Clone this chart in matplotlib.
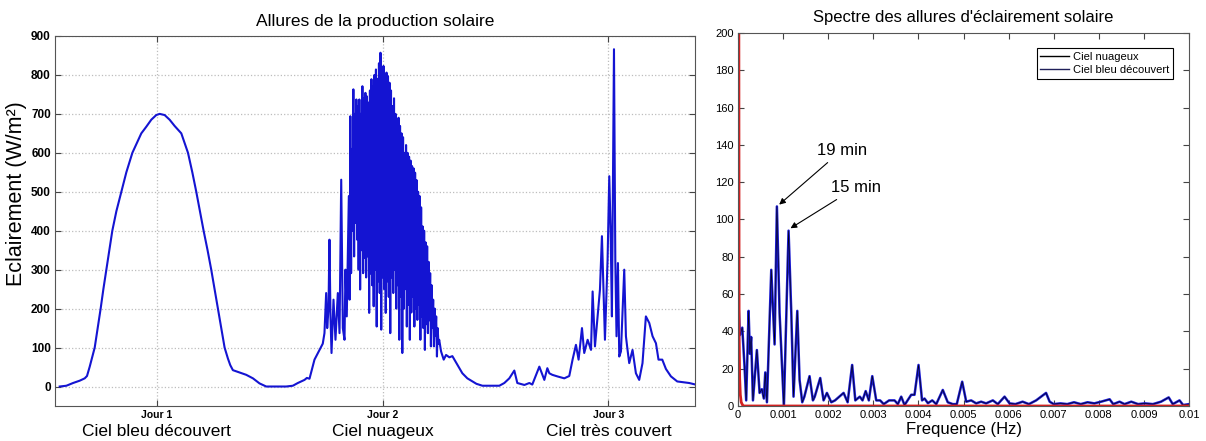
import numpy as np
import matplotlib.pyplot as plt

plt.rcParams['font.family'] = ['Liberation Sans', 'DejaVu Sans']

# Left panel: solar irradiance (W/m2) over three days, time in hours
jour1_h = [1.70, 2.41, 3.12, 3.83, 4.36, 4.60, 4.89, 5.42, 5.74, 6.05, 6.34, 6.66, 6.98,
           7.29, 7.72, 8.25, 8.78, 9.42, 10.37, 10.90, 11.43, 11.96, 12.32, 12.85,
           13.38, 13.91, 14.62, 15.33, 15.79, 16.21, 16.60, 16.99, 17.41, 17.80, 18.16,
           18.51, 18.86, 19.22, 19.57, 19.82, 20.10, 20.81, 21.52, 22.23, 22.93, 23.64,
           24.70, 25.76, 26.47, 27.00, 27.36, 27.71, 27.96]
jour1_v = [0, 2, 9, 15, 21, 27, 51, 100, 150, 200, 250, 300, 350,
           400, 450, 500, 550, 600, 650, 667, 685, 697, 700, 697,
           685, 669, 650, 600, 550, 500, 450, 400, 350, 300, 250,
           200, 150, 100, 72, 55, 42, 36, 30, 21, 8, 0,
           0, 0, 2, 9, 13, 17, 22]

jour2_h = [28.24, 28.77, 29.30, 29.65, 29.83, 30.01, 30.12, 30.26, 30.36, 30.47, 30.58,
           30.79, 31.00, 31.25, 31.43, 31.61, 31.78, 31.96, 32.06, 32.20, 32.42,
           32.50, 32.58, 32.66, 32.74, 32.82, 32.90, 32.98, 33.06, 33.14, 33.22, 33.30,
           33.38, 33.46, 33.54, 33.62, 33.70, 33.78, 33.86, 33.94, 34.02, 34.10, 34.18,
           34.26, 34.34, 34.42, 34.50, 34.58, 34.66, 34.74, 34.82, 34.90, 34.98, 35.06,
           35.14, 35.22, 35.30, 35.38, 35.46, 35.54, 35.62, 35.70, 35.78, 35.86, 35.94,
           36.02, 36.10, 36.18, 36.26, 36.34, 36.42, 36.50, 36.58, 36.66, 36.74, 36.82,
           36.90, 36.98, 37.06, 37.14, 37.22, 37.30, 37.38, 37.46, 37.54, 37.62, 37.70,
           37.78, 37.86, 37.94, 38.02, 38.10, 38.18, 38.26, 38.34, 38.42, 38.50, 38.58,
           38.66, 38.74, 38.82, 38.90, 38.98, 39.06, 39.14, 39.22, 39.30, 39.38, 39.46,
           39.54, 39.62, 39.70, 39.78, 39.86, 39.94, 40.02, 40.10, 40.18, 40.26, 40.34,
           40.42, 40.50, 40.58, 40.66, 40.74, 40.82, 40.90, 40.98, 41.06, 41.14, 41.22,
           41.30, 41.38, 41.46, 41.54, 41.62, 41.70, 41.78, 41.86, 41.94, 42.02,
           42.22, 42.50, 42.75, 43.10, 43.42, 43.95, 44.48, 45.01, 45.97, 46.61]
jour2_v = [20, 69, 94, 110, 137, 240, 150, 200, 377, 180, 86,
           223, 120, 240, 137, 531, 150, 120, 300, 180, 489,
           223, 694, 291, 610, 400, 763, 334, 700, 420, 737, 377,
           720, 300, 737, 249, 700, 350, 771, 291, 740, 330, 754,
           280, 745, 334, 729, 189, 760, 290, 789, 260, 770, 206,
           800, 300, 814, 154, 790, 270, 830, 240, 857, 146, 810,
           280, 823, 250, 800, 189, 806, 270, 797, 230, 780, 137,
           760, 280, 720, 240, 740, 300, 700, 200, 677, 260, 690,
           120, 669, 230, 650, 86, 640, 200, 600, 250, 620, 154,
           600, 210, 590, 120, 580, 190, 566, 230, 560, 154, 549,
           200, 530, 171, 500, 210, 489, 120, 460, 180, 411, 150,
           400, 94, 370, 160, 360, 137, 320, 170, 291, 103, 260,
           150, 223, 103, 200, 130, 180, 77, 150, 110, 120,
           90, 69, 81, 75, 78, 56, 34, 21, 7, 2]

jour3_h = [48.41, 48.94, 49.47, 50.00, 50.32, 51.07, 51.60, 51.91, 52.66, 53.19, 53.51,
           53.72, 54.04, 54.57, 55.31, 55.84, 56.19, 56.55, 56.83, 57.19, 57.43, 57.79,
           58.15, 58.32, 58.57, 58.85, 59.10, 59.31, 59.63, 59.91, 60.09, 60.23, 60.37,
           60.59, 60.73, 60.86, 61.01, 61.15, 61.33, 61.68, 61.86, 62.03, 62.21, 62.56,
           62.92, 63.27, 63.62, 63.98, 64.34, 64.69, 65.05, 65.32, 65.72, 66.11, 66.64,
           67.31, 68.58, 69.43]
jour3_v = [2, 9, 21, 41, 9, 4, 9, 5, 51, 17, 47,
           34, 30, 26, 21, 27, 69, 107, 69, 150, 86, 120,
           94, 244, 103, 180, 249, 386, 120, 326, 540, 403, 180,
           866, 326, 129, 317, 77, 90, 300, 129, 94, 60, 94,
           34, 17, 60, 180, 163, 129, 111, 69, 69, 45, 26,
           13, 9, 4]

day_ticks = [12, 36, 60]
day_labels = ['Jour 1', 'Jour 2', 'Jour 3']
sky_labels = ['Ciel bleu découvert', 'Ciel nuageux', 'Ciel très couvert']

# Right panel: spectrum (frequency in mHz)
nuageux_f = [0.0, 0.04, 0.093, 0.144, 0.18, 0.233, 0.262, 0.29, 0.33, 0.417, 0.477,
             0.528, 0.572, 0.603, 0.64, 0.736, 0.81, 0.861, 0.92, 1.016, 1.12, 1.18,
             1.23, 1.313, 1.364, 1.423, 1.47, 1.585, 1.66, 1.7, 1.822, 1.896, 1.97,
             2.067, 2.15, 2.34, 2.43, 2.53, 2.6, 2.7, 2.76, 2.83, 2.9, 2.976, 3.064,
             3.15, 3.23, 3.35, 3.47, 3.543, 3.618, 3.692, 3.84, 3.913, 4.002, 4.08,
             4.135, 4.21, 4.306, 4.395, 4.54, 4.65, 4.76, 4.85, 4.97, 5.06, 5.17,
             5.28, 5.39, 5.5, 5.65, 5.76, 5.91, 6.02, 6.15, 6.31, 6.45, 6.61, 6.72,
             6.83, 6.91, 7.0, 7.15, 7.3, 7.45, 7.6, 7.75, 7.9, 8.05, 8.24, 8.32,
             8.46, 8.57, 8.72, 8.87, 9.02, 9.2, 9.38, 9.55, 9.64, 9.79, 9.87, 10.0]
nuageux_a = [60, 38, 42, 21, 3, 51, 28, 37, 3, 30, 7,
             9, 4, 18, 2, 73, 33, 107, 50, 0, 94, 50,
             5, 51, 14, 2, 5, 16, 3, 5, 15, 3, 7,
             2, 3, 7, 2, 22, 3, 5, 3, 8, 3, 16, 3,
             3, 1, 3, 3, 1, 5, 0.5, 6, 6, 22, 3,
             4, 1.5, 3, 1, 8.6, 2, 1, 1, 13, 2.3, 3,
             1.4, 2.3, 1.4, 3, 1, 5, 1.4, 1, 2.3, 1, 3, 5,
             7, 2.3, 1, 1.4, 1, 2, 1, 2, 1.4, 2.3, 3.6, 1,
             2.3, 1, 2.3, 1, 1.4, 1, 2.3, 4.6, 1, 3, 0.5, 1]

bleu_f = [0.0, 0.012, 0.023, 0.035, 0.05, 0.07, 0.1, 0.13, 10.0]
bleu_a = [1500, 350, 40, 15, 6, 2, 0.5, 0, 0]

fig = plt.figure(figsize=(12.06, 4.41), dpi=100)

# ---- left panel ----
ax1 = fig.add_axes([0.0456, 0.0794, 0.5307, 0.839])
hours = np.concatenate([jour1_h, jour2_h, jour3_h])
irr = np.concatenate([jour1_v, jour2_v, jour3_v])
ax1.plot(hours, irr, color='#1414d2', lw=1.5)
ax1.set_xlim(1.2, 69.2)
ax1.set_ylim(-50, 900)
ax1.set_yticks(range(0, 901, 100))
ax1.set_xticks(day_ticks, day_labels)
for t in ax1.get_yticklabels():
    t.set_fontweight('bold')
    t.set_fontsize(8.5)
for t in ax1.get_xticklabels():
    t.set_fontweight('bold')
    t.set_fontsize(7.5)
ax1.tick_params(direction='in', top=True, right=True, length=4, pad=3, color='#444444')
ax1.grid(True, linestyle=':', color='#bdbdbd', linewidth=0.9)
for x, lab in zip(day_ticks, sky_labels):
    ax1.text(x, -0.07, lab, transform=ax1.get_xaxis_transform(), ha='center',
             va='center', fontsize=12.5)
ax1.set_ylabel('Eclairement (W/m²)', fontsize=15.5)
ax1.yaxis.set_label_coords(-0.044, 0.575)
ax1.set_title('Allures de la production solaire', fontsize=12.5, pad=7)
for s in ax1.spines.values():
    s.set_color('#555555')

# ---- right panel ----
ax2 = fig.add_axes([0.612, 0.0794, 0.3739, 0.8458])
f_n = np.array(nuageux_f) * 1e-3
f_b = np.array(bleu_f) * 1e-3
lb, = ax2.plot(f_n, nuageux_a, color='#1a1ad0', lw=1.8)
lk, = ax2.plot(f_n, nuageux_a, color='black', lw=0.4)
ax2.plot(f_b, bleu_a, color='#d42020', lw=2)
ax2.set_xlim(0, 0.01)
ax2.set_ylim(0, 200)
ax2.set_yticks(range(0, 201, 20))
xt = [i * 0.001 for i in range(11)]
ax2.set_xticks(xt, ['0'] + ['0.%03d' % i for i in range(1, 10)] + ['0.01'])
ax2.tick_params(direction='in', top=True, right=True, length=4, pad=3, labelsize=8,
                color='#444444')
ax2.set_xlabel('Frequence (Hz)', fontsize=12, labelpad=1)
ax2.set_title("Spectre des allures d'éclairement solaire", fontsize=12, pad=8)
for s in ax2.spines.values():
    s.set_color('#555555')

leg = ax2.legend([lk, lb], ['Ciel nuageux', 'Ciel bleu découvert'], loc='upper right',
                 bbox_to_anchor=(0.964, 0.96), fontsize=8, fancybox=False,
                 edgecolor='black', framealpha=1, borderaxespad=0, handlelength=2.6,
                 handletextpad=0.3, borderpad=0.35, labelspacing=0.3)
leg.get_frame().set_linewidth(0.8)
leg.legend_handles[1].set_color('#20205a')
leg.legend_handles[1].set_linewidth(1.0)
leg.legend_handles[0].set_linewidth(1.0)

arrow = dict(arrowstyle='-|>', color='black', lw=0.8, mutation_scale=9)
ax2.annotate('19 min', xy=(0.000865, 107), xytext=(0.00174, 137), fontsize=12,
             va='center', ha='left', arrowprops=arrow)
ax2.annotate('15 min', xy=(0.00111, 94.5), xytext=(0.00205, 117), fontsize=12,
             va='center', ha='left', arrowprops=arrow)

fig.savefig('out.png', dpi=100)
